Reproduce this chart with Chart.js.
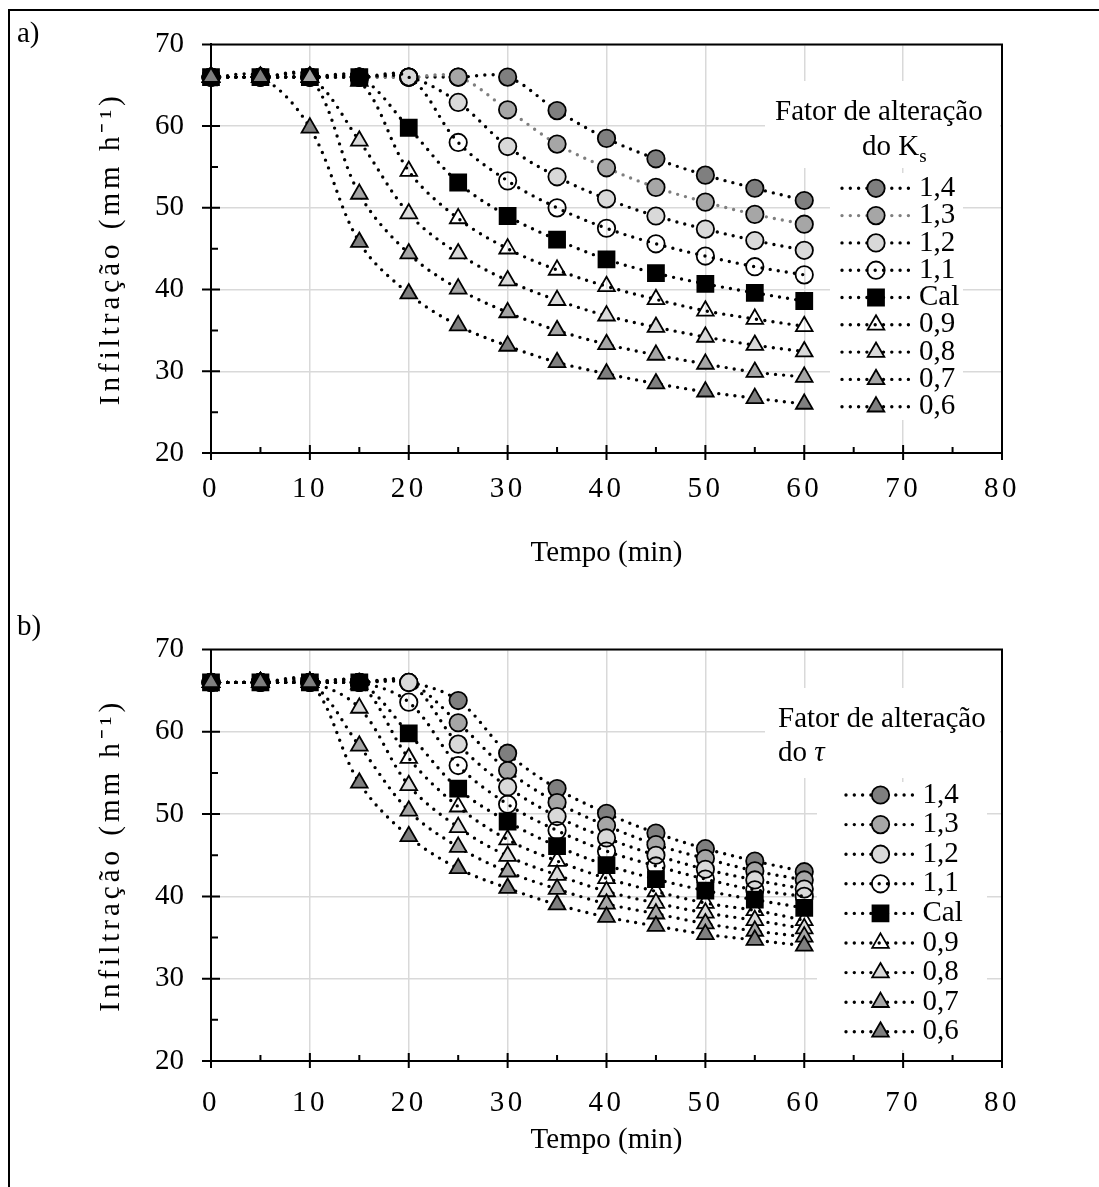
<!DOCTYPE html>
<html>
<head>
<meta charset="utf-8">
<script src="https://cdn.jsdelivr.net/npm/chart.js@4.4.1/dist/chart.umd.min.js"></script>
<style>
  html, body { margin: 0; padding: 0; background: #fff; }
  body { width: 1099px; height: 1187px; position: relative; overflow: hidden;
         font-family: "Liberation Serif", "Times New Roman", serif; }
  .frame { position: absolute; left: 8px; top: 9px; width: 1200px; height: 1300px;
           border-left: 2px solid #000; border-top: 2px solid #000; }
  .panel { position: absolute; left: 0; width: 1099px; }
  .tag { position: absolute; left: 17px; font-size: 29px; line-height: 29px; }
</style>
</head>
<body>
<div class="frame"></div>
<div class="panel" style="top:0;height:590px"><canvas id="chartA"></canvas></div>
<div class="panel" style="top:590px;height:597px"><canvas id="chartB"></canvas></div>
<div class="tag" style="top:18px">a)</div>
<div class="tag" style="top:611px">b)</div>

<script>
// tempo (min)
const minutes = [0, 5, 10, 15, 20, 25, 30, 35, 40, 45, 50, 55, 60];
const factorLabels = ['1,4', '1,3', '1,2', '1,1', 'Cal', '0,9', '0,8', '0,7', '0,6'];
const xRange = [0, 80];
const yRange = [20, 70];
const majorStep = 10;
const minorStep = 5;

// a) fator de alteração do Ks
const ks14 = [66, 66, 66, 66, 66, 66, 66, 61.9, 58.5, 56.0, 54.0, 52.4, 50.9];
const ks13 = [66, 66, 66, 66, 66, 66, 62.0, 57.8, 54.9, 52.5, 50.7, 49.2, 48.0];
const ks12 = [66, 66, 66, 66, 66, 62.9, 57.5, 53.8, 51.1, 49.0, 47.4, 46.0, 44.8];
const ks11 = [66, 66, 66, 66, 66, 58.0, 53.3, 50.0, 47.5, 45.6, 44.1, 42.8, 41.8];
const ksCal = [66, 66, 66, 66, 59.8, 53.1, 49.0, 46.1, 43.7, 42.0, 40.7, 39.6, 38.6];
const ks09 = [66, 66, 66, 65.5, 54.5, 48.7, 45.0, 42.4, 40.4, 38.8, 37.4, 36.4, 35.5];
const ks08 = [66, 66, 66, 58.2, 49.3, 44.4, 41.1, 38.7, 36.8, 35.4, 34.2, 33.2, 32.4];
const ks07 = [66, 66, 66, 51.7, 44.4, 40.1, 37.2, 35.0, 33.3, 32.0, 30.9, 29.9, 29.3];
const ks06 = [66, 66, 59.8, 45.8, 39.5, 35.6, 33.1, 31.1, 29.7, 28.5, 27.5, 26.7, 26.0];

// b) fator de alteração do tau
const tau14 = [66, 66, 66, 66, 66, 63.8, 57.4, 53.1, 50.1, 47.7, 45.8, 44.3, 43.0];
const tau13 = [66, 66, 66, 66, 66, 61.1, 55.3, 51.4, 48.6, 46.3, 44.6, 43.1, 42.0];
const tau12 = [66, 66, 66, 66, 66, 58.5, 53.3, 49.7, 47.1, 45.0, 43.3, 42.0, 40.9];
const tau11 = [66, 66, 66, 66, 63.6, 55.9, 51.2, 48.0, 45.5, 43.7, 42.1, 40.8, 40.0];
const tauCal = [66, 66, 66, 66, 59.8, 53.1, 49.1, 46.1, 43.8, 42.1, 40.7, 39.6, 38.6];
const tau09 = [66, 66, 66, 65.8, 56.8, 50.9, 46.9, 44.3, 42.2, 40.6, 39.2, 38.3, 37.1];
const tau08 = [66, 66, 66, 62.9, 53.5, 48.4, 44.9, 42.6, 40.6, 39.2, 38.0, 37.1, 36.1];
const tau07 = [66, 66, 66, 58.3, 50.4, 46.0, 43.0, 40.9, 39.1, 37.9, 36.7, 35.8, 35.1];
const tau06 = [66, 66, 66, 53.8, 47.3, 43.4, 41.0, 39.0, 37.5, 36.4, 35.4, 34.7, 34.0];

const FONT = '"Liberation Serif", "Times New Roman", serif';

// marcadores (mesma ordem das séries)
const markers = [
  { shape: 'circle', radius: 8.7, fill: '#7f7f7f' },
  { shape: 'circle', radius: 8.7, fill: '#a6a6a6' },
  { shape: 'circle', radius: 8.7, fill: '#d9d9d9' },
  { shape: 'circle', radius: 8.7, fill: 'rgba(0,0,0,0)' },
  { shape: 'rect', radius: 11.3, fill: '#000' },
  { shape: 'triangle', radius: 9.6, fill: 'rgba(0,0,0,0)' },
  { shape: 'triangle', radius: 9.6, fill: '#d9d9d9' },
  { shape: 'triangle', radius: 9.6, fill: '#a6a6a6' },
  { shape: 'triangle', radius: 9.6, fill: '#7f7f7f' },
];

function buildDatasets(series, lineColors) {
  return series.map((values, i) => ({
    label: factorLabels[i],
    data: minutes.map((m, j) => ({ x: m, y: values[j] })),
    order: series.length - i,   // última série fica por cima
    clip: false,
    borderColor: lineColors[i],
    borderWidth: 3.4,
    borderDash: [0, 8.3],
    borderCapStyle: 'round',
    tension: 0.35,
    pointStyle: markers[i].shape,
    pointRadius: markers[i].radius,
    pointBackgroundColor: markers[i].fill,
    pointBorderColor: '#000',
    pointBorderWidth: 1.8,
  }));
}

// letter-spaced text, as in the original (x tick labels, y title)
function spaced(scale, method, px) {
  const key = '_sp_' + method;
  if (scale[key]) return;
  scale[key] = true;
  const orig = scale[method];
  scale[method] = function (...args) {
    this.ctx.save();
    this.ctx.letterSpacing = px + 'px';
    orig.apply(this, args);
    this.ctx.restore();
  };
}

// moldura, marcas dos eixos e legenda estilo Excel
function makeDecor(L) {
  return {
    id: 'decor',
    beforeDatasetsDraw(chart) {
      const { ctx, chartArea: a, scales: { x, y } } = chart;
      ctx.save();
      ctx.fillStyle = '#fff';
      L.boxes.forEach(b => ctx.fillRect(b[0], b[1], b[2] - b[0], b[3] - b[1]));
      ctx.strokeStyle = '#000';
      ctx.lineWidth = 2;
      ctx.beginPath();
      ctx.moveTo(a.left, a.top);
      ctx.lineTo(a.right, a.top);
      ctx.lineTo(a.right, a.bottom);
      for (let v = xRange[0]; v <= xRange[1]; v += minorStep) {
        const px = x.getPixelForValue(v);
        const major = v % majorStep === 0;
        ctx.moveTo(px, a.bottom + (major ? 7 : 0));
        ctx.lineTo(px, a.bottom - (major ? 8 : 6));
      }
      for (let v = yRange[0]; v <= yRange[1]; v += minorStep) {
        const py = y.getPixelForValue(v);
        const major = v % majorStep === 0;
        ctx.moveTo(a.left - (major ? 9 : 0), py);
        ctx.lineTo(a.left + (major ? 9 : 7), py);
      }
      ctx.stroke();
      ctx.restore();
    },
    afterDatasetsDraw(chart) {
      const ctx = chart.ctx;
      ctx.save();
      ctx.fillStyle = '#000';
      ctx.textBaseline = 'alphabetic';
      ctx.textAlign = 'left';
      ctx.font = '29px ' + FONT;
      ctx.fillText('Fator de alteração', L.titleX, L.titleY);
      let tx = L.subX;
      L.sub.forEach(p => {
        ctx.font = (p.italic ? 'italic ' : '') + (p.small ? '19px ' : '29px ') + FONT;
        ctx.fillText(p.text, tx, L.subY + (p.small ? 7 : 0));
        tx += ctx.measureText(p.text).width;
      });

      chart.data.datasets.forEach((ds, i) => {
        const y = L.rowY + i * L.rowGap;
        ctx.setLineDash(ds.borderDash);
        ctx.lineCap = 'round';
        ctx.lineWidth = ds.borderWidth;
        ctx.strokeStyle = ds.borderColor;
        ctx.beginPath();
        ctx.moveTo(L.lineX0, y);
        ctx.lineTo(L.lineX1, y);
        ctx.stroke();
        ctx.setLineDash([]);
        ctx.lineCap = 'butt';
        ctx.fillStyle = ds.pointBackgroundColor;
        ctx.strokeStyle = ds.pointBorderColor;
        ctx.lineWidth = ds.pointBorderWidth;
        Chart.helpers.drawPoint(ctx, {
          pointStyle: ds.pointStyle, radius: ds.pointRadius,
          borderWidth: ds.pointBorderWidth, rotation: 0
        }, L.markX, y);
        ctx.fillStyle = '#000';
        ctx.font = '29px ' + FONT;
        ctx.textBaseline = 'middle';
        ctx.fillText(ds.label, L.textX, y);
        ctx.textBaseline = 'alphabetic';
      });
      ctx.restore();
    }
  };
}

function makeChart(id, datasets, P, L) {
  return new Chart(document.getElementById(id), {
    type: 'line',
    data: { datasets },
    plugins: [makeDecor(L)],
    options: {
      responsive: true,
      maintainAspectRatio: false,
      animation: false,
      events: [],
      layout: { padding: { top: P.top, right: 97, bottom: 0, left: 0 } },
      plugins: { legend: { display: false }, tooltip: { enabled: false } },
      scales: {
        x: {
          type: 'linear', min: xRange[0], max: xRange[1],
          afterFit: s => { s.height = P.xHeight; },
          afterUpdate: s => spaced(s, 'drawLabels', 3.5),
          ticks: { stepSize: majorStep, padding: P.xTickPad, color: '#000',
                   font: { family: FONT, size: 29, lineHeight: 1.2 } },
          grid: { color: '#d9d9d9', lineWidth: 1.5, drawTicks: false },
          border: { color: '#000', width: 2 },
          title: { display: true, text: 'Tempo (min)', color: '#000',
                   padding: { top: 0, bottom: P.xTitlePad },
                   font: { family: FONT, size: 29, lineHeight: 1.2 } }
        },
        y: {
          type: 'linear', min: yRange[0], max: yRange[1],
          afterFit: s => { s.width = 211; },
          afterUpdate: s => spaced(s, 'drawTitle', 4),
          ticks: { stepSize: majorStep, padding: 27, color: '#000',
                   font: { family: FONT, size: 29, lineHeight: 1.2 } },
          grid: { color: '#d9d9d9', lineWidth: 1.5, drawTicks: false },
          border: { color: '#000', width: 2 },
          title: { display: true, text: 'Infiltração (mm h⁻¹)', color: '#000',
                   padding: { top: 94, bottom: 0 },
                   font: { family: FONT, size: 29, lineHeight: 1.2 } }
        }
      }
    }
  });
}

const lineA = ['#000', '#7f7f7f', '#000', '#000', '#000', '#000', '#000', '#000', '#000'];
const lineB = ['#000', '#000', '#000', '#000', '#000', '#000', '#000', '#000', '#000'];

makeChart('chartA',
  buildDatasets([ks14, ks13, ks12, ks11, ksCal, ks09, ks08, ks07, ks06], lineA),
  { top: 43, xHeight: 137, xTickPad: 19, xTitlePad: 19 },
  { boxes: [[765, 81, 1000, 168], [830, 173, 963, 420]],
    titleX: 775, titleY: 120, subX: 862, subY: 155,
    sub: [{ text: 'do K' }, { text: 's', small: true }],
    rowY: 188.3, rowGap: 27.3, lineX0: 842, lineX1: 910, markX: 876, textX: 919 });

makeChart('chartB',
  buildDatasets([tau14, tau13, tau12, tau11, tauCal, tau09, tau08, tau07, tau06], lineB),
  { top: 59.5, xHeight: 126, xTickPad: 24.5, xTitlePad: 29 },
  { boxes: [[765, 98, 1000, 188], [817, 192, 987, 460]],
    titleX: 778, titleY: 137, subX: 778, subY: 171,
    sub: [{ text: 'do ' }, { text: 'τ', italic: true }],
    rowY: 205, rowGap: 29.6, lineX0: 846, lineX1: 915, markX: 880.5, textX: 922.5 });
</script>
</body>
</html>
